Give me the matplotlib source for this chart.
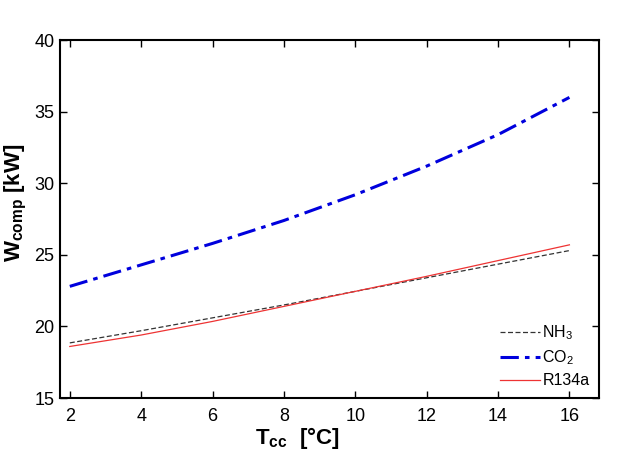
import matplotlib
matplotlib.use("Agg")
import matplotlib.pyplot as plt

plt.rcParams['font.family'] = ['Liberation Sans', 'DejaVu Sans']
plt.rcParams['mathtext.fontset'] = 'custom'
plt.rcParams['mathtext.rm'] = 'Liberation Sans'
plt.rcParams['mathtext.bf'] = 'Liberation Sans:bold'

t_cc = [2, 4, 6, 8, 10, 12, 14, 16]
w_nh3 = [18.85, 19.7, 20.6, 21.5, 22.45, 23.4, 24.35, 25.3]
w_co2 = [22.8, 24.3, 25.8, 27.4, 29.2, 31.2, 33.4, 36.0]
w_r134a = [18.6, 19.4, 20.35, 21.4, 22.45, 23.5, 24.6, 25.7]

fig = plt.figure(figsize=(6.4, 4.51), dpi=100)
ax = fig.add_axes([0.094, 0.1175, 0.842, 0.7935])

ax.plot(t_cc, w_nh3, color="#333333", linestyle=(0, (4, 2)), linewidth=0.9, label="NH$_3$")
ax.plot(t_cc, w_co2, color="#0000dd", linestyle=(0, (6, 2, 1.5, 2)), linewidth=2.2, label="CO$_2$")
ax.plot(t_cc, w_r134a, color="#ee3333", linestyle="-", linewidth=0.9, label="R134a")

ax.set_xlim(1.73, 16.83)
ax.set_ylim(15, 40)
ax.set_xticks([2, 4, 6, 8, 10, 12, 14, 16])
ax.set_yticks([15, 20, 25, 30, 35, 40])
ax.tick_params(direction="in", top=True, right=True, labelsize=13, length=5, width=1)
ax.tick_params(axis="x", pad=7)
ax.tick_params(axis="y", pad=4)
for s in ax.spines.values():
    s.set_linewidth(1.5)

ax.set_xlabel(r"T$_{\mathbf{cc}}$  [°C]", fontsize=16, fontweight="bold")
ax.set_ylabel(r"W$_{\mathbf{comp}}$ [kW]", fontsize=16, fontweight="bold")
ax.xaxis.set_label_coords(0.44, -0.075)
ax.yaxis.set_label_coords(-0.058, 0.545)

leg = ax.legend(loc="lower right", frameon=False, fontsize=11.5, handlelength=2.5,
                handletextpad=0.15, labelspacing=0.4, borderaxespad=0.2)

fig.savefig("out.png", dpi=100)
